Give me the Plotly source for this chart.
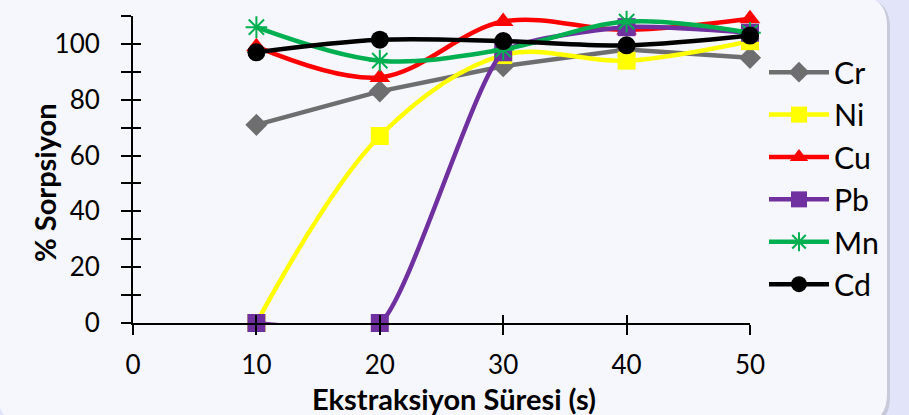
import plotly.graph_objects as go

# Extraction time (s) and % sorption for each metal
times = [10, 20, 30, 40, 50]
cr = [71, 83, 92, 98, 95]
ni = [0, 67, 96, 94, 101]
cu = [99, 88, 108, 105, 109]
pb = [0, 0, 97, 106, 104]
mn = [106, 94, 98, 108, 104]
cd = [97, 101.5, 101, 99.5, 103]

y_tick_vals = [0, 10, 20, 30, 40, 50, 60, 70, 80, 90, 100, 110]
y_tick_text = ["0", "", "20", "", "40", "", "60", "", "80", "", "100", ""]
x_tick_vals = [0, 10, 20, 30, 40, 50]
x_tick_text = ["0", "10", "20", "30", "40", "50"]

FONT = "Lato, 'Open Sans', sans-serif"
W, H = 909, 415
ML, MR, MT, MB = 133, 159, 16, 92
PW, PH = W - ML - MR, H - MT - MB


def px(x):
    return (x - ML) / PW


def py(y):
    return (H - MB - y) / PH


def rounded_rect(left, top, right, bottom, r_tl, r_tr, r_br, r_bl):
    pts = [
        f"M{px(left + r_tl)},{py(top)}",
        f"L{px(right - r_tr)},{py(top)}",
        f"Q{px(right)},{py(top)} {px(right)},{py(top + r_tr)}",
        f"L{px(right)},{py(bottom - r_br)}",
        f"Q{px(right)},{py(bottom)} {px(right - r_br)},{py(bottom)}",
        f"L{px(left + r_bl)},{py(bottom)}",
        f"Q{px(left)},{py(bottom)} {px(left)},{py(bottom - r_bl)}",
        f"L{px(left)},{py(top + r_tl)}",
        f"Q{px(left)},{py(top)} {px(left + r_tl)},{py(top)}",
        "Z",
    ]
    return " ".join(pts)


# name, values, colour, marker symbol, marker size, line shape, smoothing
series = [
    ("Cr", cr, "#6E6E70", "diamond", 17, "linear", 1.0),
    ("Ni", ni, "#FFFF00", "square", 18, "spline", 1.0),
    ("Cu", cu, "#FF0000", "triangle-up", 18, "spline", 1.0),
    ("Pb", pb, "#7030A0", "square", 18, "spline", 0.5),
    ("Mn", mn, "#00B050", "asterisk-open", 18, "spline", 1.0),
    ("Cd", cd, "#000000", "circle", 18, "spline", 1.0),
]

fig = go.Figure()
for name, vals, color, symbol, size, shape, smooth in series:
    marker = dict(symbol=symbol, size=size, color=color)
    if symbol == "asterisk-open":
        marker["line"] = dict(color=color, width=2)
    fig.add_trace(go.Scatter(
        x=times, y=vals, name=name, mode="lines+markers",
        line=dict(color=color, width=4.5, shape=shape, smoothing=smooth),
        marker=marker, cliponaxis=False,
    ))

# invisible trace carrying the inner half of the crossing tick marks
fig.add_trace(go.Scatter(x=[0], y=[0], xaxis="x2", yaxis="y2", mode="markers",
                         marker=dict(opacity=0), showlegend=False, hoverinfo="skip"))

axis_common = dict(showgrid=False, zeroline=False, showline=True, linecolor="black",
                   linewidth=2, ticks="outside", ticklen=10, tickwidth=2,
                   tickcolor="black", tickfont=dict(family=FONT, size=26, color="black"))

fig.update_layout(
    width=W, height=H,
    margin=dict(l=ML, r=MR, t=MT, b=MB),
    paper_bgcolor="#E2E4F9",
    plot_bgcolor="rgba(0,0,0,0)",
    xaxis=dict(range=[0, 50], tickmode="array", tickvals=x_tick_vals, ticktext=x_tick_text,
               ticklabelstandoff=8, **axis_common),
    yaxis=dict(range=[0, 110], tickmode="array", tickvals=y_tick_vals, ticktext=y_tick_text,
               ticklabelstandoff=16, **axis_common),
    xaxis2=dict(overlaying="x", anchor="y2", range=[0, 50], tickmode="array",
                tickvals=x_tick_vals, ticks="inside", ticklen=8, tickwidth=2,
                tickcolor="black", showticklabels=False, showgrid=False,
                zeroline=False, showline=False),
    yaxis2=dict(overlaying="y", anchor="x2", range=[0, 110], tickmode="array",
                tickvals=y_tick_vals, ticks="inside", ticklen=8, tickwidth=2,
                tickcolor="black", showticklabels=False, showgrid=False,
                zeroline=False, showline=False),
    legend=dict(x=px(764), y=py(46), xanchor="left", yanchor="top",
                font=dict(family=FONT, size=30.3, color="black"),
                bgcolor="rgba(0,0,0,0)", itemwidth=60, traceorder="normal"),
    showlegend=True,
    shapes=[
        dict(type="path", xref="paper", yref="paper", layer="below",
             path=rounded_rect(0, -2, 890, 427, 10, 30, 30, 30),
             fillcolor="#C8CADB", line=dict(width=0)),
        dict(type="path", xref="paper", yref="paper", layer="below",
             path=rounded_rect(-2, -4, 887, 424, 10, 30, 30, 30),
             fillcolor="#F6F7FD", line=dict(width=0)),
    ],
    annotations=[
        dict(text="<b>% Sorpsiyon</b>", textangle=-90, x=px(44), y=py(183),
             xref="paper", yref="paper", xanchor="center", yanchor="middle",
             showarrow=False, font=dict(family=FONT, size=29, color="black")),
        dict(text="<b>Ekstraksiyon Süresi (s)</b>", x=px(454), y=py(398),
             xref="paper", yref="paper", xanchor="center", yanchor="middle",
             showarrow=False, font=dict(family=FONT, size=29, color="black")),
    ],
)

fig.write_html("out.html")
